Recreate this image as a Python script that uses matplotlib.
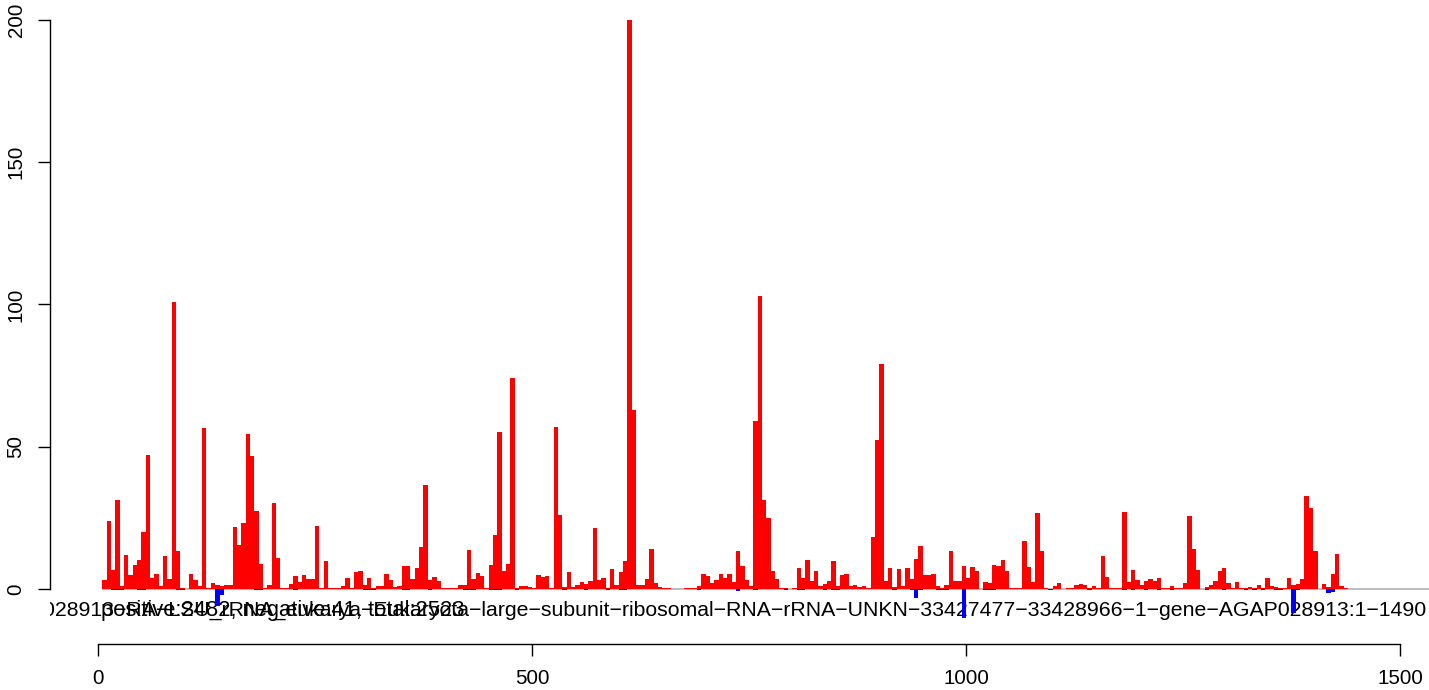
import numpy as np
import matplotlib.pyplot as plt
from matplotlib import transforms

plt.rcParams['font.family'] = ['Liberation Sans', 'DejaVu Sans']

bin_width = 5  # bp per bar
# read counts per 5-bp bin, positive strand (298 bins over 1:1490)
positive = [
    3, 24, 6.8, 31.4, 1.2, 12, 5, 8.5, 10.3, 20, 47, 3.9, 5.4, 1.2, 11.7, 3.5, 101, 13.5, 0.4, 0,
    5.4, 3, 1.2, 56.7, 0.4, 2.2, 1.5, 1.2, 1.5, 1.5, 21.7, 15.4, 23.3, 54.6, 46.9, 27.5, 8.9, 0.4, 1.5, 30.3,
    11, 0.2, 0.4, 1.9, 4.7, 2.6, 5, 3.5, 3.5, 22, 0.4, 10, 0.4, 0.2, 0.2, 1.2, 3.9, 0.3, 6.1, 6.4,
    1.5, 3.9, 0.2, 1.2, 1.2, 5.4, 3.3, 0.7, 1.2, 8.2, 8.2, 3.6, 7.5, 14.9, 36.7, 3.3, 4.3, 2.9, 0.4, 0.4,
    0.4, 0.4, 1.5, 1.5, 13.8, 3.6, 5.7, 4.7, 0.3, 8.6, 19.1, 55.3, 6.4, 8.9, 74, 0.4, 1.2, 1.2, 0.7, 0.4,
    5, 4.2, 4.7, 0.3, 57, 26.1, 0.7, 6.1, 0.7, 1.5, 2.6, 1.9, 2.9, 21.6, 3.1, 3.8, 0.3, 6.9, 1.3, 5.9,
    9.7, 200, 63, 1.4, 1.4, 3.4, 14, 2, 0.7, 0.2, 0.2, 0, 0, 0, 0.2, 0.2, 0.4, 0.9, 5.4, 4.7,
    2.2, 3.3, 5.4, 4, 5.4, 2.6, 13.5, 8, 3.3, 0.9, 59.2, 103, 31.2, 25.1, 6.4, 3.6, 0.4, 0.2, 0, 0.4,
    7.3, 4, 10.3, 2.9, 6.4, 0.9, 1.9, 2.9, 10, 1.2, 5, 5.4, 0.9, 1.5, 0.7, 0.9, 0.4, 18.2, 52.5, 79.2,
    2.7, 7.4, 0.7, 7, 1.2, 7.4, 3.6, 10.5, 15.2, 5, 5, 5.3, 1.2, 0.4, 1.5, 13.5, 2.9, 2.9, 8.2, 4,
    7.9, 6.4, 0, 2.6, 2.2, 8.6, 8.2, 10.3, 6.4, 0.5, 0.2, 0.5, 17, 7.9, 2.6, 26.8, 13.5, 0.5, 0, 1.2,
    2.2, 0, 0.5, 0.5, 1.5, 1.9, 1.5, 0.2, 1.2, 0.2, 11.7, 4.3, 0.2, 0.5, 0.5, 27.2, 2.6, 6.8, 3.3, 1.5,
    2.9, 3.6, 2.9, 4, 0.2, 0.2, 1.2, 0.2, 0.5, 2.2, 25.8, 14.2, 6.8, 0, 0.8, 1.5, 2.9, 6.4, 7.5, 2.2,
    0.2, 2.6, 0.2, 0.2, 0.8, 0.5, 1.5, 0.2, 4, 1.2, 0.8, 0.5, 0.2, 4, 1.5, 1.9, 3.6, 32.8, 28.6, 13.5,
    0, 1.9, 0.8, 5.4, 12.4, 1.2, 0.4, 0, 0, 0, 0, 0, 0, 0, 0, 0, 0, 0,
]
# negative strand: bin index -> count (drawn below zero)
neg_bins = [2, 3, 4, 8, 9, 17, 18, 26, 27, 35, 36, 44, 60, 61, 62, 69, 70, 75, 83, 84, 85, 89, 90, 91,
            95, 106, 111, 116, 119, 120, 137, 146, 150, 157, 160, 161, 166, 168, 169, 182, 186, 187, 188,
            192, 193, 194, 198, 203, 204, 205, 218, 227, 235, 237, 240, 243, 246, 254, 258, 263, 265,
            267, 270, 271, 274, 275, 282, 283]
neg_vals = [-0.3, -0.3, -0.3, -0.3, -0.3, -0.3, -0.3, -6, -2, -0.3, -0.3, -0.3, -0.3, -0.3, -0.3, -0.3,
            -0.3, -0.3, -0.3, -0.3, -0.3, -0.3, -0.3, -0.3, -0.3, -0.3, -0.3, -0.3, -0.3, -0.3, -0.3,
            -0.6, -0.5, -0.3, -0.3, -0.3, -0.3, -0.3, -0.3, -0.4, -0.3, -3.2, -0.3, -0.3, -0.3, -0.3,
            -10.2, -0.3, -0.3, -0.3, -0.3, -0.3, -0.3, -0.3, -0.3, -0.3, -0.3, -0.3, -0.3, -0.3, -0.3,
            -0.3, -0.3, -0.3, -8.4, -0.5, -1.4, -1.1]

count_label = "positive:2482, negative:41, total:2523"
seq_prefix = "AGAP"
seq_label = seq_prefix + "028913\u2212RA\u2212LSU_rRNA_eukarya\u2212Eukaryota\u2212large\u2212subunit\u2212ribosomal\u2212RNA\u2212rRNA\u2212UNKN\u221233427477\u221233428966\u22121\u2212gene\u2212AGAP028913:1\u22121490"
y_ticks = [0, 50, 100, 150, 200]
x_ticks = [0, 500, 1000, 1500]

pos = np.array(positive, dtype=float)
neg = np.zeros_like(pos)
neg[neg_bins] = neg_vals
starts = bin_width + bin_width * np.arange(len(pos))

fig = plt.figure(figsize=(14.29, 6.90), dpi=100)
ax = fig.add_axes([50 / 1429, 48 / 690, 1430 / 1429, 642 / 690])
ax.set_xlim(-55.3, 1592.2)
ax.set_ylim(-18.63, 207.03)

ax.hlines(0, starts[0], 1700, color='#BEBEBE', lw=1.5, zorder=1.5)
ax.bar(starts, pos, width=bin_width, align='edge', color='#FF0000', lw=0, zorder=2)
ax.bar(starts, neg, width=bin_width, align='edge', color='#0000FF', lw=0, zorder=2)

fs = 15.3
ax.text(4, -9.5, count_label, ha='left', va='baseline', fontsize=15.8, zorder=1, clip_on=True)

# the long sequence name overflows the plot on both sides; place the visible part
r = fig.canvas.get_renderer()
tmp = fig.text(0, 0, seq_prefix, fontsize=fs)
w = tmp.get_window_extent(renderer=r).width
tmp.remove()
trans = transforms.offset_copy(ax.transData, fig=fig, x=-w, y=0, units='dots')
ax.text(-62.2, -9.5, seq_label, transform=trans, ha='left', va='baseline',
        fontsize=fs, zorder=1, clip_on=True)

for s in ['top', 'right']:
    ax.spines[s].set_visible(False)
ax.spines['left'].set_bounds(0, 200)
ax.spines['bottom'].set_bounds(0, 1500)
ax.spines['bottom'].set_position(('outward', 1.5))
for s in ['left', 'bottom']:
    ax.spines[s].set_linewidth(1.0)
ax.set_yticks(y_ticks)
ax.set_xticks(x_ticks)
ax.tick_params(direction='out', length=8.6, width=1.0, labelsize=14.8, pad=9)
for lab in ax.get_yticklabels():
    lab.set_rotation(90)
    lab.set_va('center')

fig.savefig('out.png', dpi=100)
